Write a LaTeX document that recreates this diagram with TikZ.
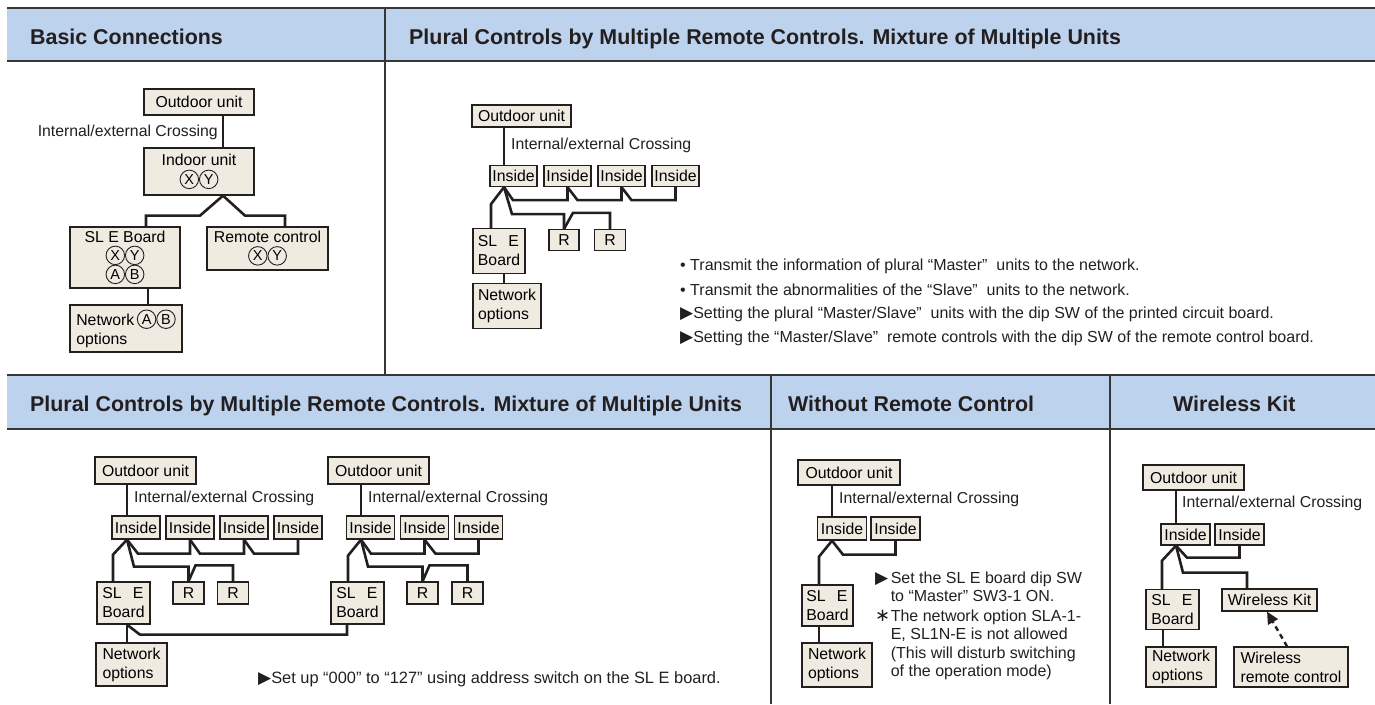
\documentclass[tikz,border=0pt]{standalone}
\usepackage{fontspec}
\setmainfont{Liberation Sans}
\newfontfamily\dvs{DejaVu Sans}
\usetikzlibrary{arrows.meta}
\definecolor{hdr}{RGB}{189,211,237}
\definecolor{boxc}{RGB}{239,235,225}
\definecolor{ink}{RGB}{35,31,32}
\definecolor{framec}{RGB}{55,55,55}
\newcommand\lblfont{\fontsize{15.8}{19}\selectfont\lineskiplimit=-100pt\relax}
\newcommand\hdrfont{\fontsize{21.4}{24}\selectfont\bfseries}
\newcommand\notefont{\fontsize{16}{18.5}\selectfont}
\newcommand\cl[1]{\tikz[baseline=-6pt]{\node[draw=ink, circle, line width=0.9pt, minimum size=18.5pt, inner sep=0pt, font=\fontsize{14.5}{14.5}\selectfont] (clx) at (0,0) {#1};}}
\newcommand\XYc{\cl{X}\cl{Y}}
\newcommand\ABc{\cl{A}\cl{B}}
\newcommand\tri{{\dvs\fontsize{17}{14}\selectfont ▶}}
\newcommand\astk{{\dvs\fontsize{18}{14}\selectfont ∗}}
\tikzset{
  box/.style={draw=ink, fill=boxc, line width=1.3pt, inner sep=0pt, font=\lblfont, align=center},
  lbox/.style={box, align=left},
  wire/.style={draw=ink, line width=2.6pt},
  dwire/.style={draw=ink, line width=2.4pt, dash pattern=on 5pt off 4pt, -{Triangle[length=12pt,width=11pt]}},
  frameline/.style={draw=framec, line width=1.5pt},
  hdrtxt/.style={font=\hdrfont, inner sep=0pt, text=ink, anchor=base west},
  lbl/.style={font=\lblfont, inner sep=0pt, text=ink},
  note/.style={font=\notefont, inner sep=0pt, text=ink, anchor=west, align=left}
}
\begin{document}
\begin{tikzpicture}[x=1pt,y=-1pt]
\useasboundingbox (0,0) rectangle (1375,704);
% ---------- frame ----------
\fill[hdr] (7,8) rectangle (1375,61);
\fill[hdr] (7,375) rectangle (1375,429);
\draw[frameline] (7,8) -- (1375,8);
\draw[frameline] (7,61) -- (1375,61);
\draw[frameline] (7,375) -- (1375,375);
\draw[frameline] (7,429) -- (1375,429);
\draw[frameline] (385,8) -- (385,375);
\draw[frameline] (771,375) -- (771,704);
\draw[frameline] (1110,375) -- (1110,704);
\node[hdrtxt] (h1) at (30,44) {Basic Connections};
\node[hdrtxt] (h2) at (409,44) {Plural Controls by Multiple Remote Controls. Mixture of Multiple Units};
\node[hdrtxt] (h3) at (30,411) {Plural Controls by Multiple Remote Controls. Mixture of Multiple Units};
\node[hdrtxt] (h4) at (788,411) {Without Remote Control};
\node[hdrtxt] (h5) at (1173,411) {Wireless Kit};
% ---------- Basic connections ----------
\node[box, minimum width=110, minimum height=26] (bo) at (199,102) {Outdoor unit};
\node[box, minimum width=110, minimum height=47] (bi) at (199,171.5) {Indoor unit\\[1pt]\XYc};
\node[box, minimum width=110, minimum height=61] (bs) at (125,257.5) {SL E Board\\\XYc\\\ABc};
\node[box, minimum width=121, minimum height=43] (br) at (267.5,248.5) {Remote control\\\XYc};
\node[lbox, minimum width=112, minimum height=47] (bn) at (126,328.5) {Network\,\ABc\\options};
\node[lbl, anchor=east] (bt) at (218,132) {Internal/external Crossing};
\coordinate (bA) at (223,0);
\draw[wire] (bo.south -| bA) -- (bi.north -| bA);
\draw[wire] (bi.south -| bA) -- ++(-23,20) -| ([xshift=21]bs.north);
\draw[wire] (bi.south -| bA) -- ++(22,20) -| ([xshift=17.5]br.north);
\draw[wire] ([xshift=23]bs.south) -- ([xshift=22]bn.north);
% ---------- Plural (top) ----------
\node[box, minimum width=99, minimum height=22] (po) at (521.5,116) {Outdoor unit};
\node[lbl, anchor=west] (pt) at (511,145) {Internal/external Crossing};
\node[box, minimum width=47, minimum height=21] (pi1) at (513.5,176) {Inside};
\node[box, minimum width=47, minimum height=21] (pi2) at (567.5,176) {Inside};
\node[box, minimum width=47, minimum height=21] (pi3) at (621.5,176) {Inside};
\node[box, minimum width=47, minimum height=21] (pi4) at (675.5,176) {Inside};
\node[lbox, minimum width=52, minimum height=45] (ps) at (499,251) {SL\hspace{0.7em}E\\Board};
\node[box, minimum width=30, minimum height=21] (pr1) at (564,240) {R};
\node[box, minimum width=31, minimum height=21] (pr2) at (610,240) {R};
\node[lbox, minimum width=68, minimum height=45] (pn) at (507,306) {Network\\options};
\coordinate (pA) at (504,0);
\draw[wire] (po.south -| pA) -- (pi1.north -| pA);
\draw[wire] (pi1.south -| pA) -- ++(9,13) -| (pi2.south);
\draw[wire] (pi2.south) -- ++(10,13) -| (pi3.south);
\draw[wire] (pi3.south) -- ++(10,13) -| (pi4.south);
\draw[wire] (pi1.south -| pA) -- ++(-13,17) -- ([xshift=-8]ps.north);
\draw[wire] (pi1.south -| pA) -- ++(8,27) -| (pr1.north);
\draw[wire] (pr1.north) -- ++(9,-16) -| (pr2.north);
\draw[wire] ([xshift=5]ps.south) -- ([xshift=-3]pn.north);
\node[note] (t1) at (680,266) {• Transmit the information of plural “Master”~ units to the network.};
\node[note] (t2) at (680,290) {• Transmit the abnormalities of the “Slave”~ units to the network.};
\node[note] (t3) at (680,314) {\tri Setting the plural “Master/Slave”~ units with the dip SW of the printed circuit board.};
\node[note] (t4) at (680,338) {\tri Setting the “Master/Slave”~ remote controls with the dip SW of the remote control board.};
% ---------- Plural (bottom), group A ----------
\node[box, minimum width=101, minimum height=27] (ao) at (145.5,470.5) {Outdoor unit};
\node[lbl, anchor=west] (at) at (134,498) {Internal/external Crossing};
\node[box, minimum width=48, minimum height=23] (ai1) at (136,527.5) {Inside};
\node[box, minimum width=48, minimum height=23] (ai2) at (190,527.5) {Inside};
\node[box, minimum width=48, minimum height=23] (ai3) at (244,527.5) {Inside};
\node[box, minimum width=48, minimum height=23] (ai4) at (298,527.5) {Inside};
\node[lbox, minimum width=53, minimum height=42] (as) at (123.5,603) {SL\hspace{0.7em}E\\Board};
\node[box, minimum width=31, minimum height=22] (ar1) at (188.5,593) {R};
\node[box, minimum width=31, minimum height=22] (ar2) at (233,593) {R};
\node[lbox, minimum width=71, minimum height=43] (an) at (131.5,664.5) {Network\\options};
\coordinate (aA) at (127,0);
\draw[wire] (ao.south -| aA) -- (ai1.north -| aA);
\draw[wire] (ai1.south -| aA) -- ++(11,14) -| (ai2.south);
\draw[wire] (ai2.south) -- ++(10,14) -| (ai3.south);
\draw[wire] (ai3.south) -- ++(10,14) -| (ai4.south);
\draw[wire] (ai1.south -| aA) -- ++(-14,15) -- ([xshift=-10.5]as.north);
\draw[wire] (ai1.south -| aA) -- ++(7,27) -| (ar1.north);
\draw[wire] (ar1.north) -- ++(7,-16) -| (ar2.north);
\draw[wire] ([xshift=3.5]as.south) -- ([xshift=-4.5]an.north);
% group B
\node[box, minimum width=101, minimum height=27] (co) at (378.5,470.5) {Outdoor unit};
\node[lbl, anchor=west] (ct) at (368,498) {Internal/external Crossing};
\node[box, minimum width=48, minimum height=23] (ci1) at (370.5,527.5) {Inside};
\node[box, minimum width=48, minimum height=23] (ci2) at (424.5,527.5) {Inside};
\node[box, minimum width=48, minimum height=23] (ci3) at (478.5,527.5) {Inside};
\node[lbox, minimum width=53, minimum height=42] (cs) at (357.5,603) {SL\hspace{0.7em}E\\Board};
\node[box, minimum width=31, minimum height=22] (cr1) at (422.5,593) {R};
\node[box, minimum width=31, minimum height=22] (cr2) at (467.5,593) {R};
\coordinate (cA) at (361,0);
\draw[wire] (co.south -| cA) -- (ci1.north -| cA);
\draw[wire] (ci1.south -| cA) -- ++(10,14) -| (ci2.south);
\draw[wire] (ci2.south) -- ++(11,14) -| (ci3.south);
\draw[wire] (ci1.south -| cA) -- ++(-13,16) -- ([xshift=-9.5]cs.north);
\draw[wire] (ci1.south -| cA) -- ++(7,27) -| (cr1.north);
\draw[wire] (cr1.north) -- ++(7,-16) -| (cr2.north);
\draw[wire] ([xshift=3.5]as.south) -- ++(13,10) -| ([xshift=-10.5]cs.south);
\node[note, font=\fontsize{16.4}{18.5}\selectfont] (st) at (258,679) {\tri Set up “000” to “127” using address switch on the SL E board.};
% ---------- Without remote control ----------
\node[box, minimum width=102, minimum height=25] (do) at (849,472.5) {Outdoor unit};
\node[lbl, anchor=west] (dt) at (839,499) {Internal/external Crossing};
\node[box, minimum width=49, minimum height=23] (di1) at (842,528.5) {Inside};
\node[box, minimum width=49, minimum height=23] (di2) at (895.5,528.5) {Inside};
\node[lbox, minimum width=51, minimum height=41] (ds) at (827.5,605.5) {SL\hspace{0.7em}E\\Board};
\node[lbox, minimum width=70, minimum height=44] (dn) at (837,665) {Network\\options};
\coordinate (dA) at (832,0);
\draw[wire] (do.south -| dA) -- (di1.north -| dA);
\draw[wire] (di1.south -| dA) -- ++(11,14) -| (di2.south);
\draw[wire] (di1.south -| dA) -- ++(-13,16) -- ([xshift=-8.5]ds.north);
\draw[wire] ([xshift=-8.5]ds.south) -- ([xshift=-18]dn.north);
\node[note, anchor=north west, font=\fontsize{16}{18.3}\selectfont] (dtx) at (875,570) {%
\begin{tabular}{@{}l@{\hspace{0.5pt}}l@{}}
\tri & Set the SL E board dip SW\\
 & to “Master” SW3-1 ON.\\[2pt]
\astk & The network option SLA-1-\\
 & E, SL1N-E is not allowed\\
 & (This will disturb switching\\
 & of the operation mode)
\end{tabular}};
% ---------- Wireless kit ----------
\node[box, minimum width=101, minimum height=25] (wo) at (1193.5,477.5) {Outdoor unit};
\node[lbl, anchor=west] (wt) at (1182,503) {Internal/external Crossing};
\node[box, minimum width=49, minimum height=21] (wi1) at (1185.5,534.5) {Inside};
\node[box, minimum width=49, minimum height=21] (wi2) at (1239.5,534.5) {Inside};
\node[lbox, minimum width=53, minimum height=40] (ws) at (1172.5,609.5) {SL\hspace{0.7em}E\\Board};
\node[box, minimum width=95, minimum height=22] (wk) at (1269.5,600) {Wireless Kit};
\node[lbox, minimum width=70, minimum height=40] (wn) at (1181,667) {Network\\options};
\node[lbox, minimum width=114, minimum height=40] (wr) at (1291,667) {Wireless\\remote control};
\coordinate (wA) at (1176,0);
\draw[wire] (wo.south -| wA) -- (wi1.north -| wA);
\draw[wire] (wi1.south -| wA) -- ++(11,12) -| (wi2.south);
\draw[wire] (wi1.south -| wA) -- ++(-14,15) -- ([xshift=-10.5]ws.north);
\draw[wire] (wi1.south -| wA) -- ++(7,27) -| ([xshift=-22.5]wk.north);
\draw[wire] ([xshift=-9.5]ws.south) -- ([xshift=-18]wn.north);
\draw[dwire] ([xshift=-4]wr.north) -- ([xshift=-2.5]wk.south);
\end{tikzpicture}
\end{document}
